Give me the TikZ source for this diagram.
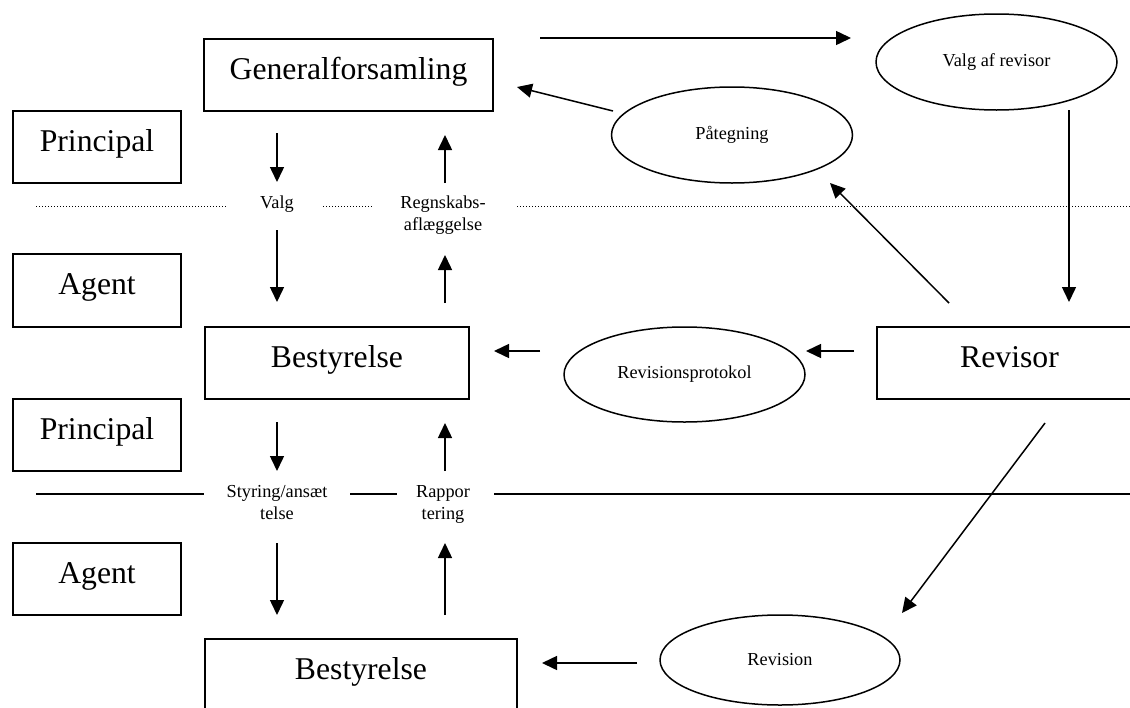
\documentclass[tikz,border=0pt]{standalone}
\usepackage{fontspec}
\setmainfont{Liberation Serif}
\usetikzlibrary{shapes.geometric,arrows.meta}
\tikzset{
  big/.style={font=\fontsize{31.7}{38}\selectfont},
  small/.style={font=\fontsize{18.3}{22}\selectfont},
  box/.style={draw, line width=1.5pt, inner sep=0pt, big, text height=22pt, text depth=14pt},
  oval/.style={draw, ellipse, line width=1.5pt, inner sep=0pt, small},
  lbl/.style={small, align=center, inner sep=0pt, anchor=base},
  arr/.style={line width=1.5pt, -{Triangle[length=15pt,width=14pt]}},
  sep/.style={line width=1.5pt},
  dotsep/.style={line width=1pt, dash pattern=on 1pt off 2pt},
}
\begin{document}
\begin{tikzpicture}[x=1pt,y=-1pt]
\clip (0,0) rectangle (1130,707);
% boxes
\node[box, minimum width=289pt, minimum height=72pt] (gen) at (348.5,75) {Generalforsamling};
\node[box, minimum width=168pt, minimum height=72pt] (p1) at (97,147) {Principal};
\node[box, minimum width=168pt, minimum height=73pt] (a1) at (97,290.5) {Agent};
\node[box, minimum width=264pt, minimum height=72pt] (b1) at (337,363) {Bestyrelse};
\node[box, minimum width=168pt, minimum height=72pt] (p2) at (97,435) {Principal};
\node[box, minimum width=168pt, minimum height=72pt] (a2) at (97,579) {Agent};
\node[box, minimum width=312pt, minimum height=72pt] (b2) at (361,675) {Bestyrelse};
\node[box, minimum width=265pt, minimum height=72pt] (rev) at (1009.5,363) {Revisor};
% ellipses
\node[oval, minimum width=241pt, minimum height=96pt] (valgrev) at (996.5,62) {Valg af revisor};
\node[oval, minimum width=241pt, minimum height=96pt] (paat) at (732,135) {Påtegning};
\node[oval, minimum width=241pt, minimum height=95pt] (revprot) at (684.5,374.5) {Revisionsprotokol};
\node[oval, minimum width=240pt, minimum height=90pt] (revision) at (780,660) {Revision};
% labels
\node[lbl] (valg) at (277,208) {Valg};
\node[lbl] (regn) at (443,230) {Regnskabs-\\aflæggelse};
\node[lbl] (styr) at (277,519) {Styring/ansæt\\telse};
\node[lbl] (rapp) at (443,519) {Rappor\\tering};
% separator lines
\coordinate (d1) at (36,206); \coordinate (d2) at (226,206);
\coordinate (d3) at (323,206); \coordinate (d4) at (373,206);
\coordinate (d5) at (517,206); \coordinate (d6) at (1130,206);
\draw[dotsep] (d1) -- (d2);
\draw[dotsep] (d3) -- (d4);
\draw[dotsep] (d5) -- (d6);
\coordinate (s1) at (36,494); \coordinate (s2) at (204,494);
\coordinate (s3) at (350,494); \coordinate (s4) at (397,494);
\coordinate (s5) at (494,494); \coordinate (s6) at (1130,494);
\draw[sep] (s1) -- (s2);
\draw[sep] (s3) -- (s4);
\draw[sep] (s5) -- (s6);
% arrow end points
\coordinate (t1) at (540,38); \coordinate (t2) at (851,38);
\coordinate (pg1) at (613,111); \coordinate (pg2) at (517,87);
\coordinate (vr1) at (1069,110); \coordinate (vr2) at (1069,302);
\coordinate (rp1) at (949,303); \coordinate (rp2) at (830,183);
\coordinate (rr1) at (854,351); \coordinate (rr2) at (806,351);
\coordinate (rb1) at (540,351); \coordinate (rb2) at (494,351);
\coordinate (rv1) at (1045,423); \coordinate (rv2) at (902,613);
\coordinate (vb1) at (637,663); \coordinate (vb2) at (542,663);
\coordinate (g1) at (277,133); \coordinate (g2) at (277,182);
\coordinate (g3) at (277,230); \coordinate (g4) at (277,302);
\coordinate (u1) at (445,183); \coordinate (u2) at (445,135);
\coordinate (u3) at (445,303); \coordinate (u4) at (445,255);
\coordinate (h1) at (277,422); \coordinate (h2) at (277,471);
\coordinate (h3) at (277,543); \coordinate (h4) at (277,615);
\coordinate (w1) at (445,471); \coordinate (w2) at (445,423);
\coordinate (w3) at (445,615); \coordinate (w4) at (445,543);
% arrows
\draw[arr] (t1) -- (t2);
\draw[arr] (pg1) -- (pg2);
\draw[arr] (vr1) -- (vr2);
\draw[arr] (rp1) -- (rp2);
\draw[arr] (rr1) -- (rr2);
\draw[arr] (rb1) -- (rb2);
\draw[arr] (rv1) -- (rv2);
\draw[arr] (vb1) -- (vb2);
\draw[arr] (g1) -- (g2);
\draw[arr] (g3) -- (g4);
\draw[arr] (u1) -- (u2);
\draw[arr] (u3) -- (u4);
\draw[arr] (h1) -- (h2);
\draw[arr] (h3) -- (h4);
\draw[arr] (w1) -- (w2);
\draw[arr] (w3) -- (w4);
\end{tikzpicture}
\end{document}
